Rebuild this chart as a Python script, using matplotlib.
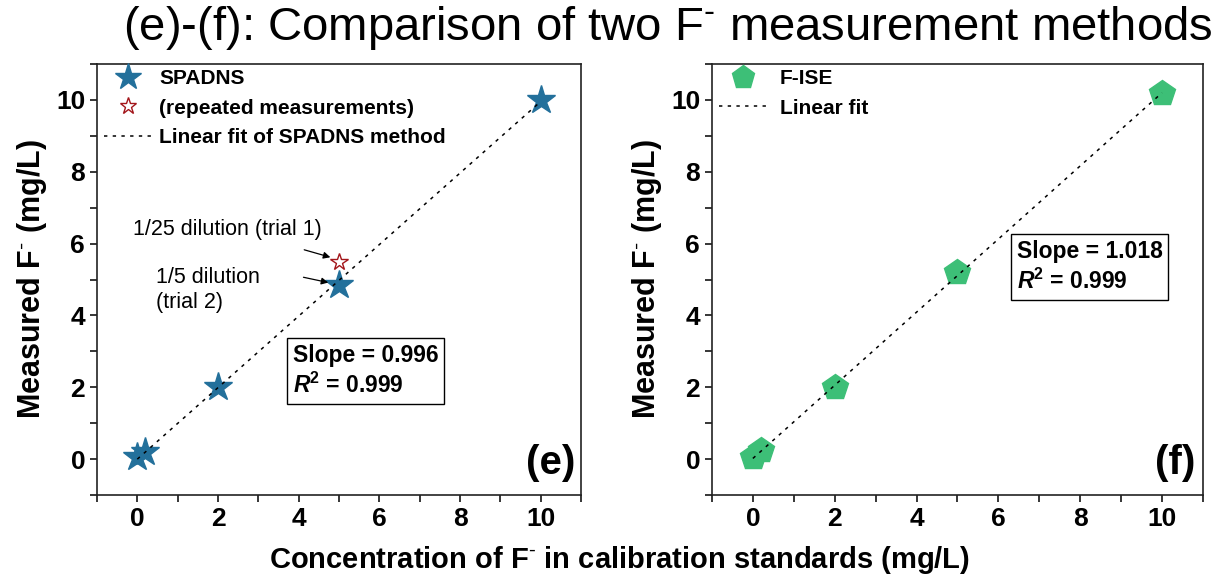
import matplotlib
matplotlib.use("Agg")
import matplotlib.pyplot as plt
import numpy as np

# data
conc_spadns = [0, 0.2, 2, 5, 10]
meas_spadns = [0.05, 0.2, 2.0, 4.85, 10.0]
conc_repeat = [5]
meas_repeat = [5.5]
fit_spadns = (0.996, 0.0)    # slope, intercept

conc_ise = [0, 0.2, 2, 5, 10]
meas_ise = [0.05, 0.25, 2.0, 5.2, 10.2]
fit_ise = (1.018, 0.02)

r2_spadns = 0.999
r2_ise = 0.999

plt.rcParams['font.family'] = ['Liberation Sans', 'DejaVu Sans']
plt.rcParams['mathtext.fontset'] = 'custom'
plt.rcParams['mathtext.rm'] = 'Liberation Sans'
plt.rcParams['mathtext.bf'] = 'Liberation Sans:bold'
plt.rcParams['mathtext.it'] = 'Liberation Sans:italic'
plt.rcParams['mathtext.bfit'] = 'Liberation Sans:bold:italic'

blue = '#23709b'
green = '#3dbf77'
red = '#a3161b'
fitstyle = (0, (2.2, 3.5))
fminus = r'F$^{\text{-}}$'


def style_axes(ax):
    ax.set_xlim(-1, 11)
    ax.set_ylim(-1, 11)
    ax.set_xticks(np.arange(0, 11, 2))
    ax.set_xticks(np.arange(-1, 12, 1), minor=True)
    ax.set_yticks(np.arange(0, 11, 2))
    ax.set_yticks(np.arange(-1, 12, 1), minor=True)
    ax.tick_params(which='both', direction='out', length=5, width=1.1,
                   labelsize=19, top=False, right=False)
    for lab in ax.get_xticklabels() + ax.get_yticklabels():
        lab.set_fontweight('bold')
    for s in ax.spines.values():
        s.set_linewidth(1.2)
        s.set_color('#222222')
    ax.set_ylabel('Measured ' + fminus + ' (mg/L)', fontsize=22,
                  fontweight='bold', labelpad=5)


fig = plt.figure(figsize=(12.29, 5.77), dpi=100)
ax1 = fig.add_axes([0.0789, 0.142, 0.394, 0.747])
ax2 = fig.add_axes([0.5793, 0.142, 0.3995, 0.747])

# (e) SPADNS
xf = np.array([0, 10])
ax1.plot(xf, fit_spadns[0] * xf + fit_spadns[1], color='black', lw=1.1,
         ls=fitstyle, label='Linear fit of SPADNS method', zorder=3)
ax1.plot(conc_spadns, meas_spadns, ls='none', marker='*', ms=21,
         color=blue, mec=blue, label='SPADNS', zorder=2)
ax1.plot(conc_repeat, meas_repeat, ls='none', marker='*', ms=13,
         mfc='white', mec=red, mew=1.0, label='(repeated measurements)', zorder=2)
style_axes(ax1)
h, l = ax1.get_legend_handles_labels()
order = [1, 2, 0]
ax1.legend([h[i] for i in order], [l[i] for i in order], loc='upper left',
           bbox_to_anchor=(-0.015, 1.022), frameon=False,
           prop={'size': 15, 'weight': 'bold'},
           handlelength=2.3, labelspacing=0.5, borderaxespad=0.3,
           handletextpad=0.35, markerscale=0.95)

ax1.annotate('1/25 dilution (trial 1)', xy=(4.85, 5.6), xytext=(-0.1, 6.4),
             fontsize=15.5, va='center', ha='left')
ax1.annotate('', xy=(4.85, 5.6), xytext=(4.07, 5.85),
             arrowprops=dict(arrowstyle='-|>', color='black', lw=0.9,
                             mutation_scale=10))
ax1.text(0.47, 4.72, '1/5 dilution\n(trial 2)', fontsize=15.5, va='center', ha='left',
         linespacing=1.25)
ax1.annotate('', xy=(4.8, 4.9), xytext=(4.05, 5.08),
             arrowprops=dict(arrowstyle='-|>', color='black', lw=0.9,
                             mutation_scale=10))
ax1.text(3.85, 2.45, 'Slope = %.3f\n$\\mathbfit{R}^{\\mathbf{2}}$ = %.3f' % (fit_spadns[0], r2_spadns),
         fontsize=16.5, fontweight='bold', va='center', ha='left', linespacing=1.3,
         bbox=dict(boxstyle='square,pad=0.25', fc='white', ec='black', lw=1.0))
ax1.text(0.988, 0.03, '(e)', transform=ax1.transAxes, fontsize=29,
         fontweight='bold', ha='right', va='bottom')

# (f) F-ISE
ax2.plot(xf, fit_ise[0] * xf + fit_ise[1], color='black', lw=1.1,
         ls=fitstyle, label='Linear fit', zorder=3)
ax2.plot(conc_ise, meas_ise, ls='none', marker='p', ms=19,
         color=green, mec=green, label='F-ISE', zorder=2)
style_axes(ax2)
h, l = ax2.get_legend_handles_labels()
ax2.legend([h[1], h[0]], [l[1], l[0]], loc='upper left',
           bbox_to_anchor=(-0.015, 1.022), frameon=False,
           prop={'size': 15, 'weight': 'bold'}, handlelength=2.3,
           labelspacing=0.5, borderaxespad=0.3, handletextpad=0.6,
           markerscale=0.9)
ax2.text(6.45, 5.35, 'Slope = %.3f\n$\\mathbfit{R}^{\\mathbf{2}}$ = %.3f' % (fit_ise[0], r2_ise),
         fontsize=16.5, fontweight='bold', va='center', ha='left', linespacing=1.3,
         bbox=dict(boxstyle='square,pad=0.25', fc='white', ec='black', lw=1.0))
ax2.text(0.985, 0.03, '(f)', transform=ax2.transAxes, fontsize=29,
         fontweight='bold', ha='right', va='bottom')

fig.text(0.504, 0.029, 'Concentration of ' + fminus + ' in calibration standards (mg/L)',
         fontsize=21, fontweight='bold', ha='center', va='center')
fig.text(0.543, 0.951, '(e)-(f): Comparison of two ' + fminus + ' measurement methods',
         fontsize=34, ha='center', va='center')

fig.savefig('out.png', dpi=100)
